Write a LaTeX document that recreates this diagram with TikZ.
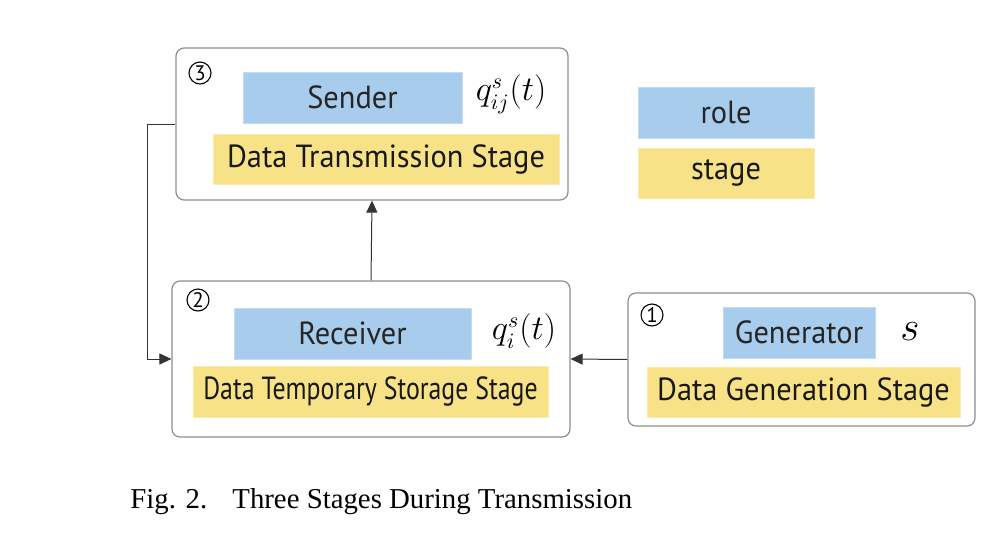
\documentclass[tikz,border=0pt]{standalone}
\usepackage{fontspec}
\setmainfont{Liberation Serif}
\newfontfamily\boxfont[FakeStretch=0.95]{PT Sans}
\newfontfamily\numfont{PT Sans}
\usetikzlibrary{arrows.meta}
\definecolor{roleblue}{HTML}{A8CCEC}
\definecolor{stageyel}{HTML}{F8E287}
\definecolor{framegray}{HTML}{8E8E8E}
\tikzset{
  frame/.style={draw=framegray, line width=0.6pt, rounded corners=4pt, fill=white},
  rolebox/.style={fill=roleblue, draw=roleblue!70!white, line width=0.4pt, font=\boxfont\fontsize{16}{19}\selectfont, text=black!85, inner sep=0pt},
  stagebox/.style={fill=stageyel, draw=stageyel!70!white, line width=0.4pt, font=\boxfont\fontsize{16}{19}\selectfont, text=black!90, inner sep=0pt},
  circnum/.style={circle, draw=black, line width=0.55pt, minimum size=11pt, inner sep=0pt, font=\numfont\fontsize{10.5}{12}\selectfont},
  qlabel/.style={font=\fontsize{16}{19}\selectfont, inner sep=0pt},
  arr/.style={draw=black!80, line width=0.5pt, -{Triangle[length=6pt,width=5.5pt]}},
  capt/.style={font=\fontsize{14.4}{17}\selectfont, inner sep=0pt, anchor=base west}
}
\begin{document}
\begin{tikzpicture}[x=0.5pt, y=-0.5pt]
\useasboundingbox (0,0) rectangle (994,535);
% top box (stage 3)
\node[frame, minimum width=196pt, minimum height=76pt] (top) at (372,124) {};
\node[rolebox, minimum width=109.5pt, minimum height=25.5pt] (sender) at (352.5,97.5) {Sender};
\node[stagebox, minimum width=173pt, minimum height=25pt] (trans) at (386,159) {Data Transmission Stage};
\node[circnum] (n3) at (200,73) {3};
\node[qlabel] (q3) at (511,94) {$q^{s}_{ij}(t)$};
% middle box (stage 2)
\node[frame, minimum width=199pt, minimum height=78pt] (mid) at (371,359) {};
\node[rolebox, minimum width=118.5pt, minimum height=25.5pt] (recv) at (352.5,333.5) {Receiver};
\node[stagebox, minimum width=177.5pt, minimum height=25.5pt] (store) at (370.5,391.5) {\scalebox{0.85}[1]{Data Temporary Storage Stage}};
\node[circnum] (n2) at (198,300) {2};
\node[qlabel] (q2) at (524,331) {$q^{s}_{i}(t)$};
% right box (stage 1)
\node[frame, minimum width=173.5pt, minimum height=66.5pt] (rgt) at (801.5,359.5) {};
\node[rolebox, minimum width=76pt, minimum height=25.5pt] (gen) at (799,332.5) {Generator};
\node[stagebox, minimum width=156.5pt, minimum height=25pt] (genst) at (803.5,392) {Data Generation Stage};
\node[circnum] (n1) at (652,315) {1};
\node[qlabel, font=\fontsize{20}{22}\selectfont] (s1) at (910,332) {$s$};
% legend
\node[rolebox, minimum width=88pt, minimum height=25.5pt] (lrole) at (726,112.5) {role};
\node[stagebox, minimum width=88pt, minimum height=25pt] (lstage) at (726,173) {stage};
% connectors
\draw[arr] (rgt.west) -- (mid.east);
\draw[arr] (mid.north) -- (top.south);
\coordinate (bend) at (147,124);
\draw[arr] (top.west) -- (bend) |- (mid.west);
% caption
\node[capt] (fig) at (130,508) {Fig. 2.};
\node[capt] (cap) at (232,508) {Three Stages During Transmission};
\end{tikzpicture}
\end{document}
